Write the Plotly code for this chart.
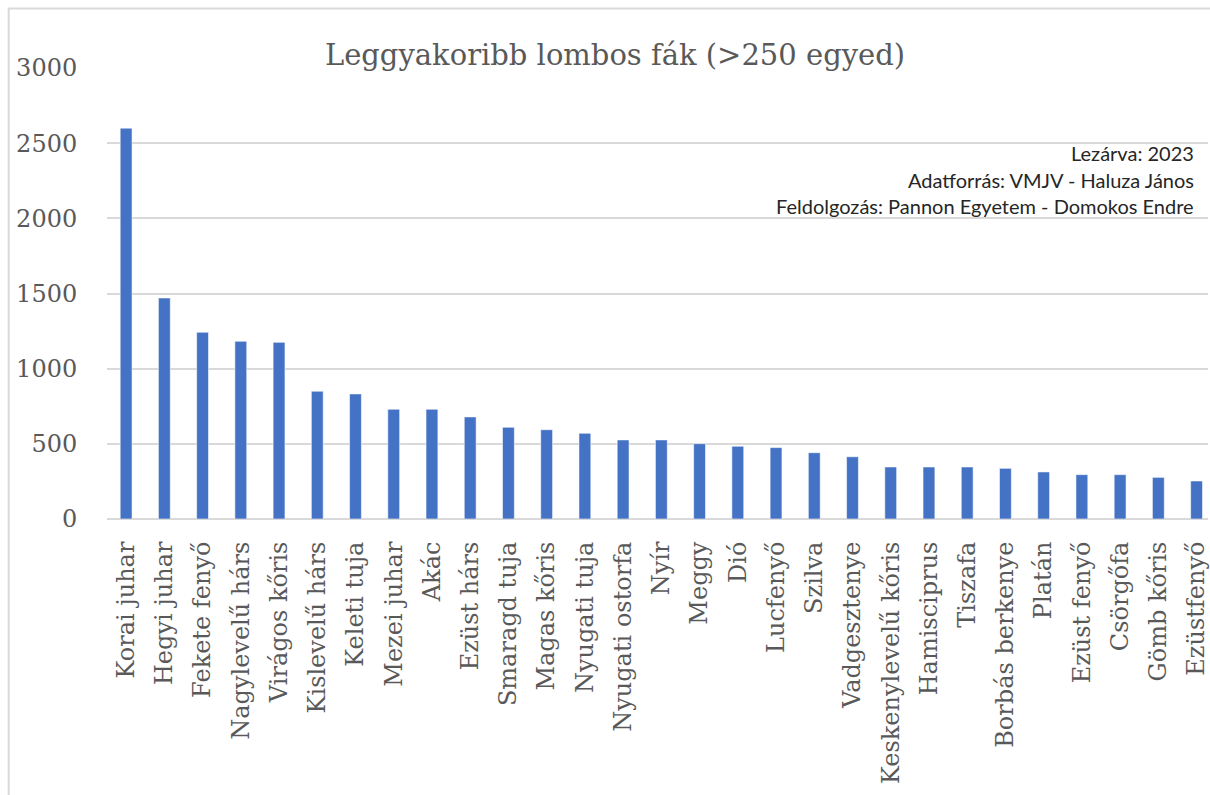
import plotly.graph_objects as go

# Most common deciduous/coniferous tree species (>250 specimens)
species = [
    "Korai juhar", "Hegyi juhar", "Fekete fenyő", "Nagylevelű hárs", "Virágos kőris",
    "Kislevelű hárs", "Keleti tuja", "Mezei juhar", "Akác", "Ezüst hárs",
    "Smaragd tuja", "Magas kőris", "Nyugati tuja", "Nyugati ostorfa", "Nyír",
    "Meggy", "Dió", "Lucfenyő", "Szilva", "Vadgesztenye",
    "Keskenylevelű kőris", "Hamisciprus", "Tiszafa", "Borbás berkenye", "Platán",
    "Ezüst fenyő", "Csörgőfa", "Gömb kőris", "Ezüstfenyő",
]
counts = [
    2600, 1470, 1242, 1182, 1175,
    850, 832, 730, 730, 679,
    610, 594, 570, 526, 526,
    501, 484, 475, 441, 414,
    346, 346, 346, 337, 313,
    295, 295, 277, 253,
]
y_ticks = [0, 500, 1000, 1500, 2000, 2500, 3000]

credits = [
    "Lezárva: 2023",
    "Adatforrás: VMJV - Haluza János",
    "Feldolgozás: Pannon Egyetem - Domokos Endre",
]

W, H = 1210, 795
L, R, T, B = 107, 0, 68, 276
plot_w = W - L - R
plot_h = H - T - B

fig = go.Figure(
    go.Bar(
        x=species,
        y=counts,
        width=0.31,
        marker=dict(color="#4472C4", line=dict(color="rgba(255,255,255,0.55)", width=1)),
        hoverinfo="x+y",
    )
)

serif = "DejaVu Serif"
gray = "#595959"

fig.update_layout(
    width=W,
    height=H,
    margin=dict(l=L, r=R, t=T, b=B),
    paper_bgcolor="white",
    plot_bgcolor="white",
    showlegend=False,
    title=dict(
        text="Leggyakoribb lombos fák (>250 egyed)",
        x=615 / W,
        xanchor="center",
        xref="container",
        y=1 - 55 / H,
        yanchor="middle",
        yref="container",
        font=dict(family=serif, size=29, color=gray),
    ),
    xaxis=dict(
        type="category",
        range=[-0.5, -0.5 + plot_w / 38.3],
        tickangle=-90,
        tickfont=dict(family=serif, size=24, color=gray),
        ticks="outside",
        ticklen=12,
        tickcolor="rgba(0,0,0,0)",
        showgrid=False,
        showline=False,
        zeroline=False,
        fixedrange=True,
    ),
    yaxis=dict(
        range=[0, 3000],
        tickvals=y_ticks,
        tickfont=dict(family=serif, size=24, color=gray),
        ticks="outside",
        ticklen=24,
        tickcolor="rgba(0,0,0,0)",
        showgrid=True,
        gridcolor="#d9d9d9",
        gridwidth=2,
        zeroline=True,
        zerolinecolor="#d9d9d9",
        zerolinewidth=2,
        showline=False,
        fixedrange=True,
    ),
)

# Outer chart-area frame (left and top edges visible)
fig.add_shape(
    type="rect",
    xref="paper", yref="paper",
    x0=(8.5 - L) / plot_w, x1=(W + 20 - L) / plot_w,
    y0=(H - B - (H + 20)) / plot_h, y1=(H - B - 8.5) / plot_h,
    line=dict(color="#d9d9d9", width=2),
    fillcolor="rgba(0,0,0,0)",
    layer="below",
)

# Credit lines, right-aligned in the upper right corner
for text, ypix in zip(credits, [153, 180, 206]):
    fig.add_annotation(
        text=text,
        xref="paper", yref="paper",
        x=(1198 - L) / plot_w,
        y=(H - B - ypix) / plot_h,
        xanchor="right", yanchor="middle",
        showarrow=False,
        font=dict(family="Lato", size=20, color="#262626"),
    )

fig.write_html("out.html")
